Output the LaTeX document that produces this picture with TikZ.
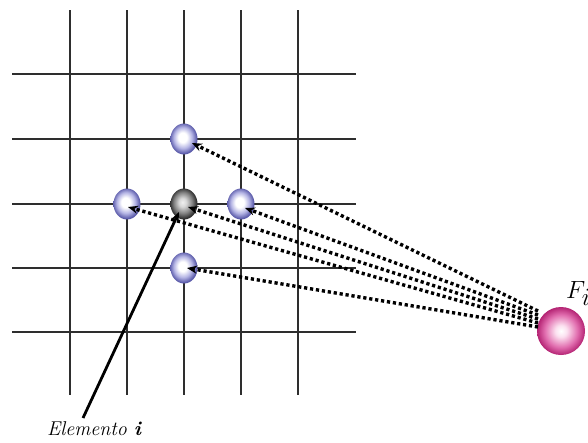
\documentclass[tikz,border=0pt]{standalone}
\usetikzlibrary{arrows.meta,shapes.geometric}
\pgfdeclareradialshading{beadblue}{\pgfpoint{-3bp}{3bp}}{color(0bp)=(white); color(8bp)=(white); color(17bp)=(rgb,255:red,180;green,180;blue,228); color(25bp)=(rgb,255:red,88;green,88;blue,168); color(50bp)=(rgb,255:red,88;green,88;blue,168)}
\pgfdeclareradialshading{beadgray}{\pgfpoint{-3bp}{3bp}}{color(0bp)=(rgb,255:red,240;green,240;blue,240); color(7bp)=(rgb,255:red,215;green,215;blue,215); color(17bp)=(rgb,255:red,130;green,130;blue,130); color(25bp)=(rgb,255:red,45;green,45;blue,45); color(50bp)=(rgb,255:red,45;green,45;blue,45)}
\pgfdeclareradialshading{beadpink}{\pgfpoint{0bp}{0bp}}{color(0bp)=(white); color(6bp)=(rgb,255:red,252;green,225;blue,240); color(17bp)=(rgb,255:red,225;green,110;blue,175); color(25bp)=(rgb,255:red,180;green,35;blue,115); color(50bp)=(rgb,255:red,180;green,35;blue,115)}
\begin{document}
\begin{tikzpicture}[x=1pt,y=-1pt,
  gridline/.style={line width=1.3pt,black!82},
  bluebead/.style={ellipse,minimum width=27pt,minimum height=31pt,inner sep=0pt,shading=beadblue},
  graybead/.style={ellipse,minimum width=27pt,minimum height=31pt,inner sep=0pt,shading=beadgray},
  force/.style={circle,minimum size=48pt,inner sep=0pt,shading=beadpink},
  dotarrow/.style={line width=3.4pt,dash pattern=on 3.2pt off 2.8pt,-{Stealth[length=10pt,width=8pt]}},
  solidarrow/.style={line width=2.8pt,-{Stealth[length=10pt,width=8pt]}}]
\useasboundingbox (0,0) rectangle (588,442);
\fill[white] (0,0) rectangle (588,442);
% grid
\foreach \x in {70,127,184,241,298} \draw[gridline] (\x,10) -- (\x,395);
\foreach \y in {74,139,204,268,332} \draw[gridline] (12,\y) -- (356,\y);
% beads
\node[bluebead] (top) at (184,139) {};
\node[bluebead] (left) at (127,204) {};
\node[graybead] (ctr) at (184,204) {};
\node[bluebead] (right) at (241,204) {};
\node[bluebead] (bot) at (184,268) {};
% force
\node[force] (F) at (561,331) {};
\node[font=\fontsize{34}{34}\selectfont, anchor=base west, inner sep=0pt] (Flabel) at (566,298) {$F_i$};
% arrow tips and sources
\coordinate (ttop) at (192,143);
\coordinate (tleft) at (128,207);
\coordinate (tctr) at (188,207);
\coordinate (tright) at (245,208);
\coordinate (tbot) at (187,268);
\coordinate (s1) at (538,311);
\coordinate (s2) at (538,315);
\coordinate (s3) at (538,319);
\coordinate (s4) at (538,323);
\coordinate (s5) at (538,327);
\draw[dotarrow] (s1) -- (ttop);
\draw[dotarrow] (s2) -- (tright);
\draw[dotarrow] (s3) -- (tctr);
\draw[dotarrow] (s4) -- (tleft);
\draw[dotarrow] (s5) -- (tbot);
% element label
\node[font=\fontsize{20}{20}\selectfont\itshape, anchor=base] (elem) at (94,435) {Elemento \textbf{\textit{i}}};
\coordinate (estart) at (83,418);
\coordinate (etip) at (179,212);
\draw[solidarrow] (estart) -- (etip);
\end{tikzpicture}
\end{document}
